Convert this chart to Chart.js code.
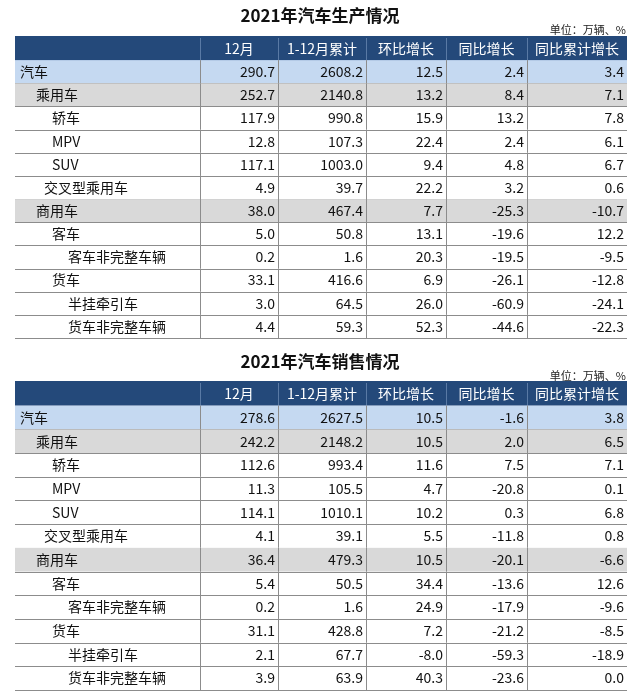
<!DOCTYPE html>
<html><head><meta charset="utf-8">
<script src="https://cdn.jsdelivr.net/npm/chart.js@4"></script>
<style>
body{margin:0;background:#fff;width:640px;height:697px;overflow:hidden}
.w{position:relative;width:640px}
.t{position:absolute;left:0;width:640px;text-align:center;font:bold 17px "Noto Sans CJK SC";color:#111}
.u{position:absolute;right:14px;font:11px "Noto Sans CJK SC";color:#222}
canvas{display:block}
</style></head><body>
<div class="w" style="height:340px"><canvas id="c1" width="640" height="340" style="width:640px;height:340px"></canvas><div class="t" style="top:2px">2021年汽车生产情况</div><div class="u" style="top:21px">单位：万辆、%</div></div>
<div class="w" style="height:357px"><canvas id="c2" width="640" height="357" style="width:640px;height:357px"></canvas><div class="t" style="top:8px">2021年汽车销售情况</div><div class="u" style="top:27px">单位：万辆、%</div></div>
<script>
const columns = ["12月","1-12月累计","环比增长","同比增长","同比累计增长"];
const categories = ["汽车","乘用车","轿车","MPV","SUV","交叉型乘用车","商用车","客车","客车非完整车辆","货车","半挂牵引车","货车非完整车辆"];
const levels = [0,1,2,2,2,1.5,1,2,3,2,3,3];
const prodMonth = [290.7,252.7,117.9,12.8,117.1,4.9,38.0,5.0,0.2,33.1,3.0,4.4];
const prodCum   = [2608.2,2140.8,990.8,107.3,1003.0,39.7,467.4,50.8,1.6,416.6,64.5,59.3];
const prodMoM   = [12.5,13.2,15.9,22.4,9.4,22.2,7.7,13.1,20.3,6.9,26.0,52.3];
const prodYoY   = [2.4,8.4,13.2,2.4,4.8,3.2,-25.3,-19.6,-19.5,-26.1,-60.9,-44.6];
const prodCumYoY= [3.4,7.1,7.8,6.1,6.7,0.6,-10.7,12.2,-9.5,-12.8,-24.1,-22.3];
const saleMonth = [278.6,242.2,112.6,11.3,114.1,4.1,36.4,5.4,0.2,31.1,2.1,3.9];
const saleCum   = [2627.5,2148.2,993.4,105.5,1010.1,39.1,479.3,50.5,1.6,428.8,67.7,63.9];
const saleMoM   = [10.5,10.5,11.6,4.7,10.2,5.5,10.5,34.4,24.9,7.2,-8.0,40.3];
const saleYoY   = [-1.6,2.0,7.5,-20.8,0.3,-11.8,-20.1,-13.6,-17.9,-21.2,-59.3,-23.6];
const saleCumYoY= [3.8,6.5,7.1,0.1,6.8,0.8,-6.6,12.6,-9.6,-8.5,-18.9,0.0];

const edges=[15,200,278,366,446,527,627];
function fmt(v){return v.toFixed(1);}
function make(id,padTop,padBot,series){
  const labels=["header",...categories];
  const tablePlugin={id:'tbl',beforeDatasetsDraw(ch){
    const c=ch.ctx,xs=ch.scales.x,ys=ch.scales.y;
    const X=edges.map(e=>xs.getPixelForValue(e));
    const rh=ys.getPixelForValue(1)-ys.getPixelForValue(0);
    c.save();
    labels.forEach((lab,i)=>{
      const yc=ys.getPixelForValue(i),y0=yc-rh/2;
      let fill=null;
      if(i===0)fill='#24497a';else if(lab==='汽车')fill='#c5d9f1';else if(lab==='乘用车'||lab==='商用车')fill='#d9d9d9';
      if(fill){c.fillStyle=fill;c.fillRect(X[0],y0,X[6]-X[0],rh);}
      c.strokeStyle=i===0?'#5a7aa5':'#8c8c8c';c.lineWidth=1;
      c.beginPath();c.moveTo(X[0],Math.round(y0+rh)+.5);c.lineTo(X[6],Math.round(y0+rh)+.5);c.stroke();
      for(let k=1;k<6;k++){c.beginPath();c.moveTo(Math.round(X[k])+.5,y0);c.lineTo(Math.round(X[k])+.5,y0+rh);c.stroke();}
      c.textBaseline='middle';
      c.font='14px "Noto Sans CJK SC"';
      if(i===0){
        c.fillStyle='#fff';c.textAlign='center';
        columns.forEach((t,k)=>c.fillText(t,(X[k+1]+X[k+2])/2,yc));
      }else{
        c.fillStyle='#111';c.textAlign='left';
        c.fillText(lab,X[0]+5+levels[i-1]*16,yc);
        c.textAlign='right';
        series.forEach((s,k)=>c.fillText(fmt(s[i-1]),X[k+2]-3,yc));
      }
    });
    c.strokeStyle='#24497a';c.lineWidth=2;
    const yt=ys.getPixelForValue(0)-rh/2;
    c.beginPath();c.moveTo(X[0],yt);c.lineTo(X[6],yt);c.stroke();
    c.restore();
  }};
  new Chart(document.getElementById(id),{type:'scatter',
    data:{labels,datasets:[{data:labels.map(l=>({x:edges[0],y:l})),pointRadius:0}]},
    options:{responsive:false,animation:false,devicePixelRatio:1,
      layout:{padding:{top:padTop,bottom:padBot,left:0,right:0}},
      plugins:{legend:{display:false},tooltip:{enabled:false}},
      scales:{x:{type:'linear',min:0,max:640,display:false},
              y:{type:'category',labels,offset:true,display:false}}},
    plugins:[tablePlugin]});
}
make('c1',37,2,[prodMonth,prodCum,prodMoM,prodYoY,prodCumYoY]);
make('c2',42,7,[saleMonth,saleCum,saleMoM,saleYoY,saleCumYoY]);
</script></body></html>
